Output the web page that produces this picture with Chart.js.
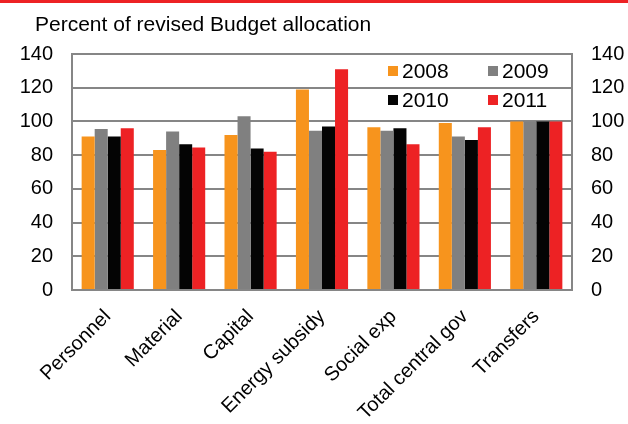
<!DOCTYPE html>
<html>
<head>
<meta charset="utf-8">
<script src="https://cdn.jsdelivr.net/npm/chart.js@4.4.1/dist/chart.umd.min.js"></script>
<style>
  html, body { margin: 0; padding: 0; background: #fff; }
  #wrap { width: 628px; height: 424px; position: relative; }
</style>
</head>
<body>
<div id="wrap"><canvas id="budget" width="628" height="424"></canvas></div>
<script>
// categories and series
var categories = ["Personnel", "Material", "Capital", "Energy subsidy", "Social exp", "Total central gov", "Transfers"];
var years = ["2008", "2009", "2010", "2011"];
var values2008 = [91, 83, 92, 119, 96.5, 99, 100];
var values2009 = [95.5, 94, 103, 94.5, 94.5, 91, 100];
var values2010 = [91, 86.5, 84, 97, 96, 89, 100];
var values2011 = [96, 84.5, 82, 131, 86.5, 96.5, 100];
var yTicks = [0, 20, 40, 60, 80, 100, 120, 140];

var colors = ['#F7941D', '#808080', '#040404', '#ED2224'];
var FONT = '"Liberation Sans", Arial, sans-serif';
var GRID = '#868686';

// red rule across the top and the units caption
var decor = {
    id: 'decor',
    beforeDraw: function (chart) {
        var c = chart.ctx;
        c.save();
        c.fillStyle = '#fff';
        c.fillRect(0, 0, chart.width, chart.height);
        c.fillStyle = '#ED2224';
        c.fillRect(0, 0, chart.width, 3);
        c.fillStyle = '#000';
        c.font = '21px ' + FONT;
        c.textBaseline = 'middle';
        c.fillText('Percent of revised Budget allocation', 35, 25);
        c.restore();
    }
};

// two-column legend inside the plot, top right
var gridLegend = {
    id: 'gridLegend',
    afterDatasetsDraw: function (chart) {
        var c = chart.ctx, a = chart.chartArea;
        var cols = [a.right - 184, a.right - 84];
        var rows = [a.top + 17, a.top + 46];
        c.save();
        c.font = '21px ' + FONT;
        c.textBaseline = 'middle';
        chart.data.datasets.forEach(function (ds, i) {
            var x = cols[i % 2], y = rows[Math.floor(i / 2)];
            c.fillStyle = ds.backgroundColor;
            c.fillRect(x, y - 5, 10, 10);
            c.fillStyle = '#000';
            c.fillText(ds.label, x + 14, y + 1);
        });
        c.restore();
    }
};

var seriesValues = [values2008, values2009, values2010, values2011];
var datasets = years.map(function (y, i) {
    return {
        label: y,
        data: seriesValues[i],
        backgroundColor: colors[i],
        borderWidth: 0,
        categoryPercentage: 0.73,
        barPercentage: 1.0,
        yAxisID: 'y'
    };
});

var tickFont = { family: FONT, size: 20 };

new Chart(document.getElementById('budget').getContext('2d'), {
    type: 'bar',
    data: { labels: categories, datasets: datasets },
    plugins: [decor, gridLegend],
    options: {
        responsive: false,
        animation: false,
        devicePixelRatio: 1,
        layout: { padding: { top: 54, left: 0, right: 0, bottom: 0 } },
        plugins: {
            legend: { display: false },
            title: { display: false },
            tooltip: { enabled: false }
        },
        scales: {
            x: {
                grid: { display: false },
                border: { color: GRID, width: 2 },
                ticks: {
                    color: '#000',
                    font: tickFont,
                    maxRotation: 45,
                    minRotation: 45,
                    padding: 7,
                    autoSkip: false
                },
                afterFit: function (s) { s.height = 134; }
            },
            y: {
                position: 'left',
                min: 0,
                max: 140,
                afterBuildTicks: function (s) { s.ticks = yTicks.map(function (v) { return { value: v }; }); },
                grid: { color: GRID, lineWidth: 2, drawTicks: false },
                border: { color: GRID, width: 2 },
                ticks: { color: '#000', font: tickFont, padding: 19 },
                afterFit: function (s) { s.width = 72; }
            },
            y1: {
                position: 'right',
                min: 0,
                max: 140,
                afterBuildTicks: function (s) { s.ticks = yTicks.map(function (v) { return { value: v }; }); },
                grid: { display: false, drawTicks: false },
                border: { color: GRID, width: 2 },
                ticks: { color: '#000', font: tickFont, padding: 19 },
                afterFit: function (s) { s.width = 56; }
            }
        }
    }
});
</script>
</body>
</html>
